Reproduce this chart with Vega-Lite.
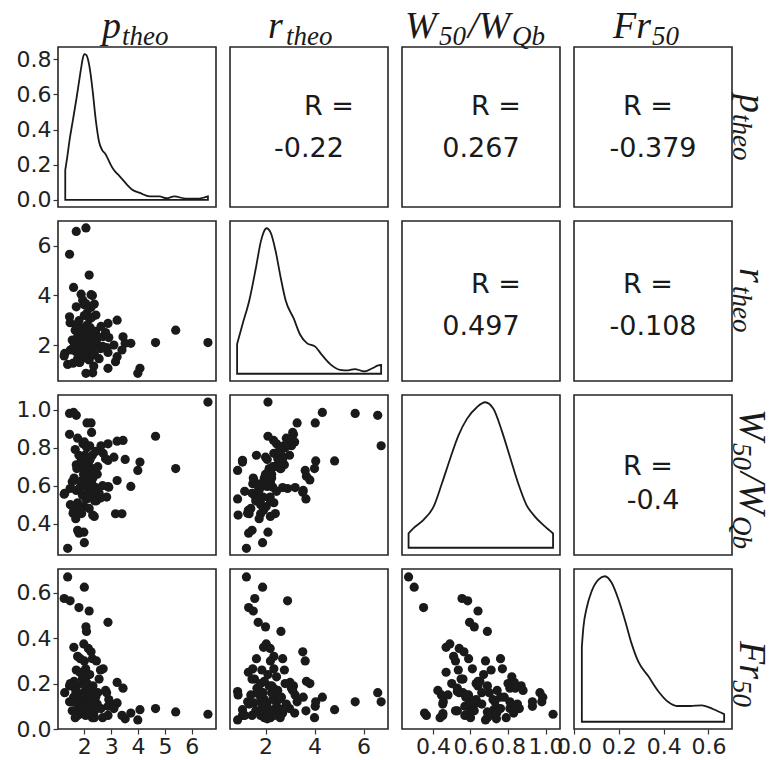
{
  "$schema": "https://vega.github.io/schema/vega-lite/v6.json",
  "padding": {"left": 15, "top": 1, "right": 0, "bottom": 0},
  "bounds": "flush",
  "align": "each",
  "columns": 5,
  "spacing": 14,
  "datasets": {
    "pairs": [
      {"p":1.38,"r":1.22,"W":0.27,"Fr":0.67},{"p":2.00,"r":1.88,"W":0.30,"Fr":0.625},{"p":1.25,"r":1.56,"W":0.555,"Fr":0.575},
      {"p":1.47,"r":2.90,"W":0.585,"Fr":0.565},{"p":1.80,"r":1.31,"W":0.35,"Fr":0.535},{"p":2.18,"r":1.50,"W":0.64,"Fr":0.52},
      {"p":2.88,"r":1.70,"W":0.595,"Fr":0.47},{"p":2.06,"r":2.00,"W":0.62,"Fr":0.45},{"p":2.08,"r":2.63,"W":0.69,"Fr":0.43},
      {"p":6.60,"r":2.10,"W":1.04,"Fr":0.065},{"p":5.40,"r":2.60,"W":0.69,"Fr":0.075},{"p":4.65,"r":2.10,"W":0.86,"Fr":0.09},
      {"p":2.06,"r":6.72,"W":0.81,"Fr":0.12},{"p":1.70,"r":6.58,"W":0.97,"Fr":0.16},{"p":1.45,"r":5.66,"W":0.98,"Fr":0.12},
      {"p":2.18,"r":4.82,"W":0.73,"Fr":0.085},{"p":1.60,"r":4.32,"W":0.985,"Fr":0.14},{"p":2.25,"r":4.03,"W":0.93,"Fr":0.10},
      {"p":1.61,"r":1.92,"W":0.47,"Fr":0.36},{"p":1.98,"r":2.03,"W":0.49,"Fr":0.375},{"p":2.15,"r":2.19,"W":0.54,"Fr":0.355},
      {"p":2.25,"r":3.52,"W":0.565,"Fr":0.34},{"p":1.75,"r":2.34,"W":0.51,"Fr":0.32},{"p":1.85,"r":2.70,"W":0.59,"Fr":0.31},
      {"p":2.00,"r":3.62,"W":0.68,"Fr":0.30},{"p":2.30,"r":1.63,"W":0.76,"Fr":0.31},{"p":2.70,"r":2.34,"W":0.77,"Fr":0.265},
      {"p":1.70,"r":2.77,"W":0.71,"Fr":0.26},{"p":2.05,"r":1.48,"W":0.61,"Fr":0.265},{"p":2.45,"r":2.20,"W":0.52,"Fr":0.30},
      {"p":1.95,"r":2.45,"W":0.82,"Fr":0.23},{"p":2.60,"r":1.85,"W":0.535,"Fr":0.26},
      {"p":2.88,"r":2.87,"W":0.82,"Fr":0.10},{"p":3.22,"r":3.00,"W":0.834,"Fr":0.205},{"p":3.44,"r":2.33,"W":0.838,"Fr":0.18},
      {"p":2.79,"r":2.50,"W":0.742,"Fr":0.17},{"p":2.88,"r":1.06,"W":0.733,"Fr":0.06},{"p":3.52,"r":2.07,"W":0.738,"Fr":0.045},
      {"p":4.07,"r":1.06,"W":0.724,"Fr":0.085},{"p":3.99,"r":0.86,"W":0.68,"Fr":0.04},{"p":3.22,"r":1.53,"W":0.627,"Fr":0.115},
      {"p":3.73,"r":2.07,"W":0.596,"Fr":0.07},{"p":3.16,"r":1.33,"W":0.452,"Fr":0.11},{"p":3.40,"r":1.80,"W":0.452,"Fr":0.06},
      {"p":2.91,"r":2.30,"W":0.592,"Fr":0.13},{"p":2.83,"r":1.90,"W":0.54,"Fr":0.16},{"p":3.10,"r":2.00,"W":0.75,"Fr":0.09},
      {"p":1.88,"r":4.05,"W":0.73,"Fr":0.12},{"p":1.94,"r":3.81,"W":0.63,"Fr":0.20},{"p":1.70,"r":3.54,"W":0.575,"Fr":0.14},
      {"p":2.37,"r":3.65,"W":0.53,"Fr":0.08},{"p":1.45,"r":3.14,"W":0.87,"Fr":0.19},{"p":2.43,"r":3.21,"W":0.59,"Fr":0.15},
      {"p":2.10,"r":3.29,"W":0.93,"Fr":0.12},{"p":2.00,"r":3.19,"W":0.83,"Fr":0.07},{"p":2.20,"r":3.06,"W":0.81,"Fr":0.18},
      {"p":1.80,"r":2.98,"W":0.76,"Fr":0.09},{"p":2.05,"r":3.67,"W":0.65,"Fr":0.21},{"p":2.30,"r":4.00,"W":0.69,"Fr":0.05},
      {"p":1.58,"r":1.27,"W":0.455,"Fr":0.12},{"p":1.68,"r":1.74,"W":0.426,"Fr":0.17},{"p":1.98,"r":2.10,"W":0.355,"Fr":0.07},
      {"p":1.75,"r":1.45,"W":0.365,"Fr":0.06},{"p":2.37,"r":2.20,"W":0.438,"Fr":0.05},{"p":1.90,"r":2.40,"W":0.453,"Fr":0.068},
      {"p":2.06,"r":0.86,"W":0.53,"Fr":0.165},{"p":2.31,"r":0.88,"W":0.445,"Fr":0.15},{"p":1.27,"r":1.66,"W":0.56,"Fr":0.16},
      {"p":2.27,"r":3.11,"W":0.88,"Fr":0.17},{"p":1.62,"r":1.95,"W":0.64,"Fr":0.21},{"p":1.72,"r":2.15,"W":0.69,"Fr":0.19},
      {"p":1.78,"r":1.75,"W":0.58,"Fr":0.15},{"p":1.85,"r":2.05,"W":0.62,"Fr":0.11},{"p":1.90,"r":2.55,"W":0.72,"Fr":0.13},
      {"p":1.93,"r":1.55,"W":0.55,"Fr":0.22},{"p":1.97,"r":2.25,"W":0.66,"Fr":0.16},{"p":2.00,"r":1.85,"W":0.60,"Fr":0.09},
      {"p":2.02,"r":2.65,"W":0.76,"Fr":0.14},{"p":2.05,"r":2.35,"W":0.70,"Fr":0.06},{"p":2.08,"r":1.65,"W":0.53,"Fr":0.18},
      {"p":2.10,"r":2.80,"W":0.80,"Fr":0.20},{"p":2.12,"r":1.95,"W":0.63,"Fr":0.13},{"p":2.15,"r":2.45,"W":0.57,"Fr":0.10},
      {"p":2.18,"r":1.40,"W":0.48,"Fr":0.15},{"p":2.20,"r":2.10,"W":0.67,"Fr":0.24},{"p":2.22,"r":2.70,"W":0.74,"Fr":0.07},
      {"p":2.28,"r":1.80,"W":0.61,"Fr":0.12},{"p":2.32,"r":2.25,"W":0.64,"Fr":0.19},{"p":2.38,"r":1.60,"W":0.52,"Fr":0.08},
      {"p":2.42,"r":2.55,"W":0.78,"Fr":0.14},{"p":2.48,"r":2.00,"W":0.66,"Fr":0.11},{"p":2.55,"r":1.45,"W":0.56,"Fr":0.22},
      {"p":2.62,"r":2.75,"W":0.81,"Fr":0.09},{"p":2.68,"r":1.95,"W":0.60,"Fr":0.05},{"p":1.55,"r":2.20,"W":0.62,"Fr":0.08},
      {"p":1.48,"r":1.80,"W":0.50,"Fr":0.20},{"p":1.66,"r":2.60,"W":0.79,"Fr":0.05},{"p":1.83,"r":1.30,"W":0.47,"Fr":0.25},
      {"p":2.50,"r":2.30,"W":0.70,"Fr":0.16},{"p":1.75,"r":2.85,"W":0.85,"Fr":0.11},{"p":2.35,"r":1.15,"W":0.57,"Fr":0.06}
    ],
    "dens_p": [
      {"x":1.29,"d":0.17},{"x":1.37,"d":0.25},{"x":1.45,"d":0.34},{"x":1.57,"d":0.45},{"x":1.70,"d":0.57},{"x":1.80,"d":0.67},
      {"x":1.88,"d":0.75},{"x":1.95,"d":0.81},{"x":2.0,"d":0.83},{"x":2.07,"d":0.825},{"x":2.15,"d":0.79},{"x":2.23,"d":0.72},
      {"x":2.31,"d":0.62},{"x":2.43,"d":0.45},{"x":2.55,"d":0.33},{"x":2.66,"d":0.285},{"x":2.79,"d":0.26},{"x":2.95,"d":0.21},
      {"x":3.10,"d":0.17},{"x":3.25,"d":0.145},{"x":3.40,"d":0.12},{"x":3.60,"d":0.085},{"x":3.77,"d":0.06},{"x":4.07,"d":0.04},
      {"x":4.44,"d":0.02},{"x":4.80,"d":0.02},{"x":5.05,"d":0.01},{"x":5.35,"d":0.02},{"x":5.78,"d":0.008},{"x":6.27,"d":0.008},
      {"x":6.48,"d":0.015},{"x":6.60,"d":0.02}
    ],
    "dens_r": [
      {"x":0.84,"d":0.205},{"x":1.07,"d":0.345},{"x":1.34,"d":0.505},{"x":1.61,"d":0.73},{"x":1.81,"d":0.91},{"x":1.93,"d":0.975},
      {"x":2.04,"d":1.0},{"x":2.21,"d":0.97},{"x":2.41,"d":0.845},{"x":2.62,"d":0.66},{"x":2.82,"d":0.505},{"x":3.15,"d":0.38},
      {"x":3.42,"d":0.266},{"x":3.69,"d":0.21},{"x":4.03,"d":0.186},{"x":4.30,"d":0.13},{"x":4.63,"d":0.068},{"x":5.04,"d":0.027},
      {"x":5.37,"d":0.023},{"x":5.64,"d":0.032},{"x":6.04,"d":0.016},{"x":6.38,"d":0.039},{"x":6.60,"d":0.057},{"x":6.72,"d":0.06}
    ],
    "dens_W": [
      {"x":0.27,"d":0.098},{"x":0.298,"d":0.136},{"x":0.351,"d":0.193},{"x":0.404,"d":0.284},{"x":0.448,"d":0.443},{"x":0.492,"d":0.614},
      {"x":0.536,"d":0.773},{"x":0.581,"d":0.886},{"x":0.634,"d":0.966},{"x":0.678,"d":1.0},{"x":0.722,"d":0.955},{"x":0.766,"d":0.807},
      {"x":0.81,"d":0.625},{"x":0.854,"d":0.443},{"x":0.898,"d":0.295},{"x":0.942,"d":0.216},{"x":0.995,"d":0.148},{"x":1.04,"d":0.098}
    ],
    "dens_Fr": [
      {"x":0.035,"d":0.515},{"x":0.042,"d":0.65},{"x":0.057,"d":0.785},{"x":0.079,"d":0.898},{"x":0.109,"d":0.977},{"x":0.138,"d":1.0},
      {"x":0.168,"d":0.955},{"x":0.198,"d":0.842},{"x":0.228,"d":0.695},{"x":0.257,"d":0.537},{"x":0.287,"d":0.413},{"x":0.332,"d":0.312},
      {"x":0.376,"d":0.21},{"x":0.421,"d":0.135},{"x":0.458,"d":0.108},{"x":0.518,"d":0.108},{"x":0.57,"d":0.113},{"x":0.622,"d":0.086},
      {"x":0.67,"d":0.052}
    ],
    "corr": [
      {"key":"p_r","R":"-0.22"},{"key":"p_W","R":"0.267"},{"key":"p_Fr","R":"-0.379"},
      {"key":"r_W","R":"0.497"},{"key":"r_Fr","R":"-0.108"},{"key":"W_Fr","R":"-0.4"}
    ]
  },
  "concat": [
    {"width":158,"height":32,"view":{"stroke":null},"data":{"values":[{"m":"p","s":"theo"}]},
     "layer":[
       {"mark":{"type":"text","font":"Liberation Serif","fontStyle":"italic","fontSize":38,"color":"#1a1a1a","align":"left","baseline":"alphabetic","dx":-35,"dy":21},"encoding":{"text":{"field":"m"}}},
       {"mark":{"type":"text","font":"Liberation Serif","fontStyle":"italic","fontSize":27,"color":"#1a1a1a","align":"left","baseline":"alphabetic","dx":-15,"dy":28},"encoding":{"text":{"field":"s"}}}
     ]},
    {"width":158,"height":32,"view":{"stroke":null},"data":{"values":[{"m":"r","s":"theo"}]},
     "layer":[
       {"mark":{"type":"text","font":"Liberation Serif","fontStyle":"italic","fontSize":38,"color":"#1a1a1a","align":"left","baseline":"alphabetic","dx":-41,"dy":21},"encoding":{"text":{"field":"m"}}},
       {"mark":{"type":"text","font":"Liberation Serif","fontStyle":"italic","fontSize":27,"color":"#1a1a1a","align":"left","baseline":"alphabetic","dx":-23,"dy":28},"encoding":{"text":{"field":"s"}}}
     ]},
    {"width":158,"height":32,"view":{"stroke":null},"data":{"values":[{"a":"W","b":"50","c":"/W","d":"Qb"}]},
     "layer":[
       {"mark":{"type":"text","font":"Liberation Serif","fontStyle":"italic","fontSize":38,"color":"#1a1a1a","align":"left","baseline":"alphabetic","dx":-76,"dy":21},"encoding":{"text":{"field":"a"}}},
       {"mark":{"type":"text","font":"Liberation Serif","fontStyle":"italic","fontSize":27,"color":"#1a1a1a","align":"left","baseline":"alphabetic","dx":-42,"dy":28},"encoding":{"text":{"field":"b"}}},
       {"mark":{"type":"text","font":"Liberation Serif","fontStyle":"italic","fontSize":38,"color":"#1a1a1a","align":"left","baseline":"alphabetic","dx":-13,"dy":21},"encoding":{"text":{"field":"c"}}},
       {"mark":{"type":"text","font":"Liberation Serif","fontStyle":"italic","fontSize":27,"color":"#1a1a1a","align":"left","baseline":"alphabetic","dx":31,"dy":28},"encoding":{"text":{"field":"d"}}}
     ]},
    {"width":158,"height":32,"view":{"stroke":null},"data":{"values":[{"m":"Fr","s":"50"}]},
     "layer":[
       {"mark":{"type":"text","font":"Liberation Serif","fontStyle":"italic","fontSize":38,"color":"#1a1a1a","align":"left","baseline":"alphabetic","dx":-40,"dy":21},"encoding":{"text":{"field":"m"}}},
       {"mark":{"type":"text","font":"Liberation Serif","fontStyle":"italic","fontSize":27,"color":"#1a1a1a","align":"left","baseline":"alphabetic","dx":-1,"dy":28},"encoding":{"text":{"field":"s"}}}
     ]},
    {"width":30,"height":32,"view":{"stroke":null},"data":{"values":[{"t":""}]},"mark":{"type":"text"},"encoding":{"text":{"field":"t"}}},

    {"width":158,"height":160,"data":{"name":"dens_p"},
     "mark":{"type":"area","fill":"transparent","stroke":"#1a1a1a","strokeWidth":1.8,"interpolate":"monotone"},
     "encoding":{
       "x":{"field":"x","type":"quantitative","scale":{"domain":[1.02,6.9],"nice":false,"zero":false},"axis":null},
       "y":{"field":"d","type":"quantitative","stack":null,"scale":{"domain":[-0.04,0.87],"nice":false,"zero":false},"axis":{"values":[0,0.2,0.4,0.6,0.8],"format":".1f"},"title":null}}},
    {"width":158,"height":160,"data":{"name":"corr"},"transform":[{"filter":"datum.key == 'p_r'"}],
     "layer":[
       {"mark":{"type":"rect","fill":"transparent","stroke":"#262626","strokeWidth":1.6},"encoding":{}},
       {"mark":{"type":"text","text":"R =","font":"DejaVu Sans","fontSize":27,"color":"#1a1a1a","baseline":"middle","dx":20,"dy":-20},"encoding":{}},
       {"mark":{"type":"text","font":"DejaVu Sans","fontSize":27,"color":"#1a1a1a","baseline":"middle","dy":22},"encoding":{"text":{"field":"R"}}}
     ]},
    {"width":158,"height":160,"data":{"name":"corr"},"transform":[{"filter":"datum.key == 'p_W'"}],
     "layer":[
       {"mark":{"type":"rect","fill":"transparent","stroke":"#262626","strokeWidth":1.6},"encoding":{}},
       {"mark":{"type":"text","text":"R =","font":"DejaVu Sans","fontSize":27,"color":"#1a1a1a","baseline":"middle","dx":15,"dy":-20},"encoding":{}},
       {"mark":{"type":"text","font":"DejaVu Sans","fontSize":27,"color":"#1a1a1a","baseline":"middle","dy":22},"encoding":{"text":{"field":"R"}}}
     ]},
    {"width":158,"height":160,"data":{"name":"corr"},"transform":[{"filter":"datum.key == 'p_Fr'"}],
     "layer":[
       {"mark":{"type":"rect","fill":"transparent","stroke":"#262626","strokeWidth":1.6},"encoding":{}},
       {"mark":{"type":"text","text":"R =","font":"DejaVu Sans","fontSize":27,"color":"#1a1a1a","baseline":"middle","dx":-5,"dy":-20},"encoding":{}},
       {"mark":{"type":"text","font":"DejaVu Sans","fontSize":27,"color":"#1a1a1a","baseline":"middle","dy":22},"encoding":{"text":{"field":"R"}}}
     ]},
    {"width":30,"height":160,"view":{"stroke":null},"data":{"values":[{"m":"p","s":"theo"}]},
     "layer":[
       {"mark":{"type":"text","font":"Liberation Serif","fontStyle":"italic","fontSize":38,"color":"#1a1a1a","angle":90,"align":"left","baseline":"alphabetic","dx":-33,"dy":21},"encoding":{"text":{"field":"m"}}},
       {"mark":{"type":"text","font":"Liberation Serif","fontStyle":"italic","fontSize":27,"color":"#1a1a1a","angle":90,"align":"left","baseline":"alphabetic","dx":-13,"dy":28},"encoding":{"text":{"field":"s"}}}
     ]},

    {"width":158,"height":160,"data":{"name":"pairs"},
     "mark":{"type":"point","filled":true,"size":85,"color":"#1a1a1a","opacity":1},
     "encoding":{
       "x":{"field":"p","type":"quantitative","scale":{"domain":[1.02,6.9],"nice":false,"zero":false},"axis":null},
       "y":{"field":"r","type":"quantitative","scale":{"domain":[0.55,7.0],"nice":false,"zero":false},"axis":{"values":[2,4,6],"format":"d"},"title":null}}},
    {"width":158,"height":160,"data":{"name":"dens_r"},
     "mark":{"type":"area","fill":"transparent","stroke":"#1a1a1a","strokeWidth":1.8,"interpolate":"monotone"},
     "encoding":{
       "x":{"field":"x","type":"quantitative","scale":{"domain":[0.55,7.0],"nice":false,"zero":false},"axis":null},
       "y":{"field":"d","type":"quantitative","stack":null,"scale":{"domain":[-0.05,1.05],"nice":false,"zero":false},"axis":null}}},
    {"width":158,"height":160,"data":{"name":"corr"},"transform":[{"filter":"datum.key == 'r_W'"}],
     "layer":[
       {"mark":{"type":"rect","fill":"transparent","stroke":"#262626","strokeWidth":1.6},"encoding":{}},
       {"mark":{"type":"text","text":"R =","font":"DejaVu Sans","fontSize":27,"color":"#1a1a1a","baseline":"middle","dx":15,"dy":-16},"encoding":{}},
       {"mark":{"type":"text","font":"DejaVu Sans","fontSize":27,"color":"#1a1a1a","baseline":"middle","dy":26},"encoding":{"text":{"field":"R"}}}
     ]},
    {"width":158,"height":160,"data":{"name":"corr"},"transform":[{"filter":"datum.key == 'r_Fr'"}],
     "layer":[
       {"mark":{"type":"rect","fill":"transparent","stroke":"#262626","strokeWidth":1.6},"encoding":{}},
       {"mark":{"type":"text","text":"R =","font":"DejaVu Sans","fontSize":27,"color":"#1a1a1a","baseline":"middle","dx":-5,"dy":-16},"encoding":{}},
       {"mark":{"type":"text","font":"DejaVu Sans","fontSize":27,"color":"#1a1a1a","baseline":"middle","dy":26},"encoding":{"text":{"field":"R"}}}
     ]},
    {"width":30,"height":160,"view":{"stroke":null},"data":{"values":[{"m":"r","s":"theo"}]},
     "layer":[
       {"mark":{"type":"text","font":"Liberation Serif","fontStyle":"italic","fontSize":38,"color":"#1a1a1a","angle":90,"align":"left","baseline":"alphabetic","dx":-33,"dy":21},"encoding":{"text":{"field":"m"}}},
       {"mark":{"type":"text","font":"Liberation Serif","fontStyle":"italic","fontSize":27,"color":"#1a1a1a","angle":90,"align":"left","baseline":"alphabetic","dx":-15,"dy":28},"encoding":{"text":{"field":"s"}}}
     ]},

    {"width":158,"height":160,"data":{"name":"pairs"},
     "mark":{"type":"point","filled":true,"size":85,"color":"#1a1a1a","opacity":1},
     "encoding":{
       "x":{"field":"p","type":"quantitative","scale":{"domain":[1.02,6.9],"nice":false,"zero":false},"axis":null},
       "y":{"field":"W","type":"quantitative","scale":{"domain":[0.235,1.077],"nice":false,"zero":false},"axis":{"values":[0.4,0.6,0.8,1.0],"format":".1f"},"title":null}}},
    {"width":158,"height":160,"data":{"name":"pairs"},
     "mark":{"type":"point","filled":true,"size":85,"color":"#1a1a1a","opacity":1},
     "encoding":{
       "x":{"field":"r","type":"quantitative","scale":{"domain":[0.55,7.0],"nice":false,"zero":false},"axis":null},
       "y":{"field":"W","type":"quantitative","scale":{"domain":[0.235,1.077],"nice":false,"zero":false},"axis":null}}},
    {"width":158,"height":160,"data":{"name":"dens_W"},
     "mark":{"type":"area","fill":"transparent","stroke":"#1a1a1a","strokeWidth":1.8,"interpolate":"monotone"},
     "encoding":{
       "x":{"field":"x","type":"quantitative","scale":{"domain":[0.235,1.077],"nice":false,"zero":false},"axis":null},
       "y":{"field":"d","type":"quantitative","stack":null,"scale":{"domain":[-0.05,1.05],"nice":false,"zero":false},"axis":null}}},
    {"width":158,"height":160,"data":{"name":"corr"},"transform":[{"filter":"datum.key == 'W_Fr'"}],
     "layer":[
       {"mark":{"type":"rect","fill":"transparent","stroke":"#262626","strokeWidth":1.6},"encoding":{}},
       {"mark":{"type":"text","text":"R =","font":"DejaVu Sans","fontSize":27,"color":"#1a1a1a","baseline":"middle","dx":-5,"dy":-8},"encoding":{}},
       {"mark":{"type":"text","font":"DejaVu Sans","fontSize":27,"color":"#1a1a1a","baseline":"middle","dy":26},"encoding":{"text":{"field":"R"}}}
     ]},
    {"width":30,"height":160,"view":{"stroke":null},"data":{"values":[{"a":"W","b":"50","c":"/W","d":"Qb"}]},
     "layer":[
       {"mark":{"type":"text","font":"Liberation Serif","fontStyle":"italic","fontSize":38,"color":"#1a1a1a","angle":90,"align":"left","baseline":"alphabetic","dx":-66,"dy":21},"encoding":{"text":{"field":"a"}}},
       {"mark":{"type":"text","font":"Liberation Serif","fontStyle":"italic","fontSize":27,"color":"#1a1a1a","angle":90,"align":"left","baseline":"alphabetic","dx":-32,"dy":28},"encoding":{"text":{"field":"b"}}},
       {"mark":{"type":"text","font":"Liberation Serif","fontStyle":"italic","fontSize":38,"color":"#1a1a1a","angle":90,"align":"left","baseline":"alphabetic","dx":-3,"dy":21},"encoding":{"text":{"field":"c"}}},
       {"mark":{"type":"text","font":"Liberation Serif","fontStyle":"italic","fontSize":27,"color":"#1a1a1a","angle":90,"align":"left","baseline":"alphabetic","dx":41,"dy":28},"encoding":{"text":{"field":"d"}}}
     ]},

    {"width":158,"height":160,"data":{"name":"pairs"},
     "mark":{"type":"point","filled":true,"size":85,"color":"#1a1a1a","opacity":1},
     "encoding":{
       "x":{"field":"p","type":"quantitative","scale":{"domain":[1.02,6.9],"nice":false,"zero":false},"axis":{"values":[2,3,4,5,6],"format":"d"},"title":null},
       "y":{"field":"Fr","type":"quantitative","scale":{"domain":[0,0.705],"nice":false,"zero":false},"axis":{"values":[0,0.2,0.4,0.6],"format":".1f"},"title":null}}},
    {"width":158,"height":160,"data":{"name":"pairs"},
     "mark":{"type":"point","filled":true,"size":85,"color":"#1a1a1a","opacity":1},
     "encoding":{
       "x":{"field":"r","type":"quantitative","scale":{"domain":[0.55,7.0],"nice":false,"zero":false},"axis":{"values":[2,4,6],"format":"d"},"title":null},
       "y":{"field":"Fr","type":"quantitative","scale":{"domain":[0,0.705],"nice":false,"zero":false},"axis":null}}},
    {"width":158,"height":160,"data":{"name":"pairs"},
     "mark":{"type":"point","filled":true,"size":85,"color":"#1a1a1a","opacity":1},
     "encoding":{
       "x":{"field":"W","type":"quantitative","scale":{"domain":[0.235,1.077],"nice":false,"zero":false},"axis":{"values":[0.4,0.6,0.8,1.0],"format":".1f"},"title":null},
       "y":{"field":"Fr","type":"quantitative","scale":{"domain":[0,0.705],"nice":false,"zero":false},"axis":null}}},
    {"width":158,"height":160,"data":{"name":"dens_Fr"},
     "mark":{"type":"area","fill":"transparent","stroke":"#1a1a1a","strokeWidth":1.8,"interpolate":"monotone"},
     "encoding":{
       "x":{"field":"x","type":"quantitative","scale":{"domain":[0,0.705],"nice":false,"zero":false},"axis":{"values":[0,0.2,0.4,0.6],"format":".1f"},"title":null},
       "y":{"field":"d","type":"quantitative","stack":null,"scale":{"domain":[-0.05,1.05],"nice":false,"zero":false},"axis":null}}},
    {"width":30,"height":160,"view":{"stroke":null},"data":{"values":[{"m":"Fr","s":"50"}]},
     "layer":[
       {"mark":{"type":"text","font":"Liberation Serif","fontStyle":"italic","fontSize":38,"color":"#1a1a1a","angle":90,"align":"left","baseline":"alphabetic","dx":-8,"dy":21},"encoding":{"text":{"field":"m"}}},
       {"mark":{"type":"text","font":"Liberation Serif","fontStyle":"italic","fontSize":27,"color":"#1a1a1a","angle":90,"align":"left","baseline":"alphabetic","dx":31,"dy":28},"encoding":{"text":{"field":"s"}}}
     ]}
  ],
  "config": {
    "view": {"stroke": "#262626", "strokeWidth": 1.6},
    "axis": {"grid": false, "domain": false, "ticks": true, "tickColor": "#333333", "tickSize": 5, "tickWidth": 1.2,
             "labelFont": "DejaVu Sans", "labelFontSize": 22, "labelColor": "#222222", "labelPadding": 2,
             "labelOverlap": false, "labelFlush": false, "labelBound": false}
  }
}
